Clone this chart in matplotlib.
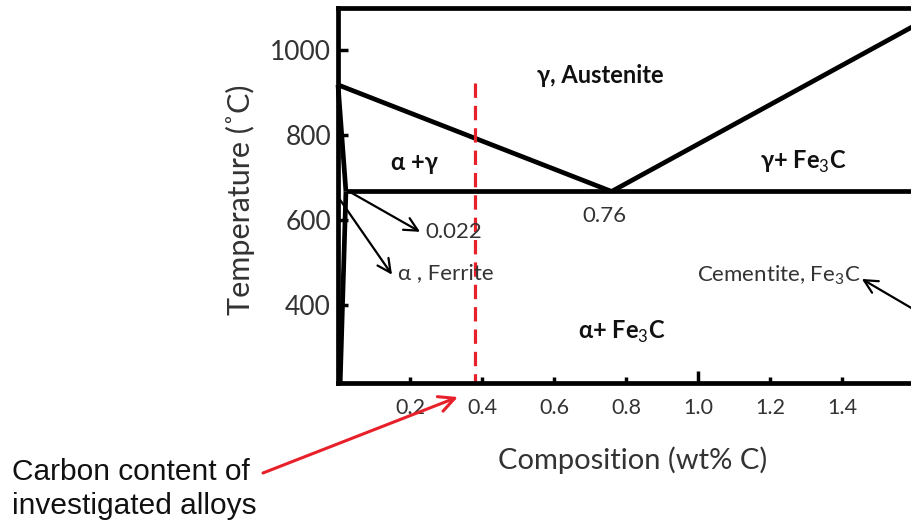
"""Fe-C phase diagram (steel corner) with the carbon content of the studied alloys."""

import matplotlib.pyplot as plt

plt.rcParams["font.family"] = ["Lato", "DejaVu Sans"]
plt.rcParams["mathtext.fontset"] = "custom"
plt.rcParams["mathtext.rm"] = "Lato"
plt.rcParams["mathtext.bf"] = "Lato:bold"

# phase boundaries (wt% C, deg C)
eutectoid_c = 0.76
eutectoid_t = 667
ferrite_max_c = 0.022

a3_comp = [0.0, eutectoid_c]
a3_temp = [918, eutectoid_t]
acm_comp = [eutectoid_c, 1.65]
acm_temp = [eutectoid_t, 1080]
a1_comp = [ferrite_max_c, 1.7]
a1_temp = [eutectoid_t, eutectoid_t]
alpha_comp = [0.0, ferrite_max_c]
alpha_temp = [918, eutectoid_t]
solvus_comp = [ferrite_max_c, 0.006]
solvus_temp = [eutectoid_t, 216]

# carbon content of the investigated alloys
alloy_c = 0.38
alloy_top = 922

x_ticks = [0.2, 0.4, 0.6, 0.8, 1.0, 1.2, 1.4]
x_ticklabels = ["0.2", "0.4", "0.6", "0.8", "1.0", "1.2", "1.4"]
y_ticks = [400, 600, 800, 1000]

BLACK_LW = 3.4
TEXT_GRAY = "#333333"
RED = "#e8202a"

fig = plt.figure(figsize=(9.11, 5.25), dpi=100)
# axes run past the right edge of the figure, as in the cropped original
ax = fig.add_axes([338 / 911, 142 / 525, 612 / 911, 375 / 525])
ax.set_xlim(0, 1.7)
ax.set_ylim(216, 1099)

for side in ("left", "bottom", "top", "right"):
    ax.spines[side].set_linewidth(BLACK_LW)
    ax.spines[side].set_color("black")

line_kw = dict(color="black", lw=BLACK_LW, solid_capstyle="butt", clip_on=False)
ax.plot(a3_comp, a3_temp, **line_kw)
ax.plot(acm_comp, acm_temp, **line_kw)
ax.plot(a1_comp, a1_temp, **line_kw)
ax.plot(alpha_comp, alpha_temp, **line_kw)
ax.plot(solvus_comp, solvus_temp, **line_kw)

ax.plot([alloy_c, alloy_c], [alloy_top, ax.get_ylim()[0]], color=RED,
        lw=2.3, ls=(0, (4.5, 2.5)), clip_on=False)

ax.set_xticks(x_ticks)
ax.set_xticklabels(x_ticklabels)
ax.set_yticks(y_ticks)
ax.tick_params(axis="x", direction="in", length=4, width=2.5, pad=11,
               labelsize=15.5, labelcolor=TEXT_GRAY)
ax.tick_params(axis="y", direction="in", length=7, width=2.5, pad=5,
               labelsize=19, labelcolor=TEXT_GRAY)
ax.xaxis.get_major_ticks()[x_ticks.index(1.0)].tick1line.set_markersize(9)

ax.set_xlabel("Composition (wt% C)", fontsize=21, color=TEXT_GRAY)
ax.xaxis.set_label_coords((633 - 338) / 612, -0.168)
ax.set_ylabel("Temperature (˚C)", fontsize=22, color=TEXT_GRAY)
ax.yaxis.set_label_coords(-0.135, 0.488)

# phase field names
bold_kw = dict(fontsize=17, fontweight="bold", ha="center", va="center", color="#111111")
ax.text(0.73, 941, "γ, Austenite", **bold_kw)
ax.text(0.211, 736, "α +γ", **bold_kw)
ax.text(1.291, 736, r"γ+ Fe$_{3}$C", **bold_kw)
ax.text(0.789, 336, r"α+ Fe$_{3}$C", **bold_kw)

plain_kw = dict(fontsize=16, va="center", color=TEXT_GRAY)
ax.text(0.739, 609, "0.76", ha="center", **plain_kw)
ax.text(0.244, 572, "0.022", ha="left", **plain_kw)
ax.text(0.167, 475, "α , Ferrite", ha="left", **plain_kw)
ax.text(0.997, 471, r"Cementite, Fe$_{3}$C", ha="left", **plain_kw)

arrow_kw = dict(arrowstyle="->", color="black", lw=1.6, mutation_scale=24,
                shrinkA=0, shrinkB=0)
ax.annotate("", xy=(0.228, 572), xytext=(0.033, 666), arrowprops=arrow_kw)
ax.annotate("", xy=(0.15, 471), xytext=(0.006, 647), arrowprops=arrow_kw)
ax.annotate("", xy=(1.455, 461), xytext=(1.62, 379), arrowprops=arrow_kw,
            annotation_clip=False)

ax.annotate("", xy=(0.333, 183), xycoords="data",
            xytext=(263 / 911, 52 / 525), textcoords="figure fraction",
            arrowprops=dict(arrowstyle="->", color=RED, lw=2.2,
                            mutation_scale=28, shrinkA=0, shrinkB=0),
            annotation_clip=False)
fig.text(12 / 911, 36 / 525, "Carbon content of\ninvestigated alloys",
         fontsize=21.5, color="#111111", ha="left", va="center",
         family=["Liberation Sans", "DejaVu Sans"], linespacing=1.3)

fig.savefig("out.png", dpi=100)
